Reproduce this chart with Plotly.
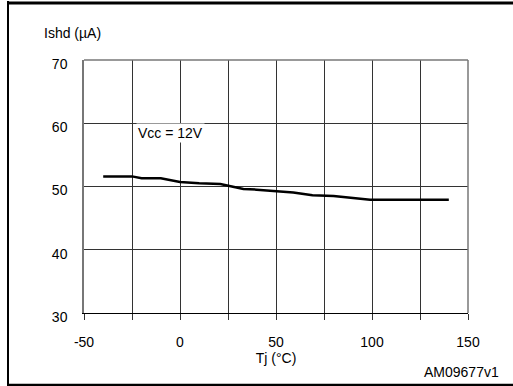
import plotly.graph_objects as go

tj = [-40, -25, -20, -10, 0, 10, 21, 33, 40, 59, 69, 80, 99, 140]
ishd = [51.6, 51.6, 51.3, 51.3, 50.7, 50.5, 50.4, 49.6, 49.5, 49.05, 48.6, 48.5, 47.9, 47.9]

x_ticks = [-50, -25, 0, 25, 50, 75, 100, 125, 150]
x_tick_labels = ["-50", "", "0", "", "50", "", "100", "", "150"]
y_ticks = [30, 40, 50, 60, 70]
y_tick_labels = ["30", "40", "50", "60", "70"]

FONT = "Liberation Sans, Arial, sans-serif"

fig = go.Figure()
fig.add_trace(go.Scatter(x=tj, y=ishd, mode="lines",
                         line=dict(color="black", width=2.5), showlegend=False,
                         hoverinfo="skip"))

W, H = 513, 386
L, R, T, B = 84, 468, 60, 312.7
def px(p):
    return (p - L) / (R - L)
def py(p):
    return (B - p) / (B - T)

fig.update_layout(
    width=W, height=H,
    margin=dict(l=L, r=W - R, t=T, b=H - B),
    paper_bgcolor="white", plot_bgcolor="white",
    font=dict(family=FONT, size=14, color="black"),
    xaxis=dict(range=[-50, 150], tickvals=x_ticks, ticktext=x_tick_labels,
               showgrid=True, gridcolor="#333", gridwidth=1,
               ticks="outside", ticklen=6, tickcolor="#333",
               showline=True, linecolor="black", linewidth=1, mirror=False,
               zeroline=False, ticklabelstandoff=10,
               title=dict(text="Tj (°C)", standoff=0, font=dict(size=14))),
    yaxis=dict(range=[30, 70], tickvals=y_ticks, ticktext=y_tick_labels,
               showgrid=True, gridcolor="#333", gridwidth=1,
               ticks="", showline=True, linecolor="#777", linewidth=1.5,
               zeroline=False, ticklabelstandoff=12, ticklabelshift=4),
)

# plot frame top/right
fig.add_shape(type="line", xref="paper", yref="paper", x0=0, x1=1, y0=1, y1=1,
              line=dict(color="#777", width=1.5))
fig.add_shape(type="line", xref="paper", yref="paper", x0=1, x1=1, y0=0, y1=1,
              line=dict(color="#777", width=1.5))

# outer border (left, top, bottom)
fig.add_shape(type="line", xref="paper", yref="paper", x0=px(8), x1=px(8), y0=py(385), y1=py(1),
              line=dict(color="black", width=2))
fig.add_shape(type="line", xref="paper", yref="paper", x0=px(7), x1=px(513), y0=py(3), y1=py(3),
              line=dict(color="black", width=3))
fig.add_shape(type="line", xref="paper", yref="paper", x0=px(7), x1=px(513), y0=py(384.5), y1=py(384.5),
              line=dict(color="black", width=2.5))

fig.add_annotation(text="Ishd (µA)", xref="paper", yref="paper", x=px(42), y=py(33),
                   xanchor="left", yanchor="middle", showarrow=False, font=dict(size=14))
fig.add_annotation(text="Vcc = 12V", xref="x", yref="y", x=-5.2, y=58.5,
                   xanchor="center", yanchor="middle", showarrow=False,
                   bgcolor="white", font=dict(size=14))
fig.add_annotation(text="AM09677v1", xref="paper", yref="paper", x=px(501), y=py(371.5),
                   xanchor="right", yanchor="middle", showarrow=False, font=dict(size=14))

fig.write_html("out.html", config={"displayModeBar": False},
               post_script="document.body.style.margin='0';document.body.style.overflow='hidden';")
